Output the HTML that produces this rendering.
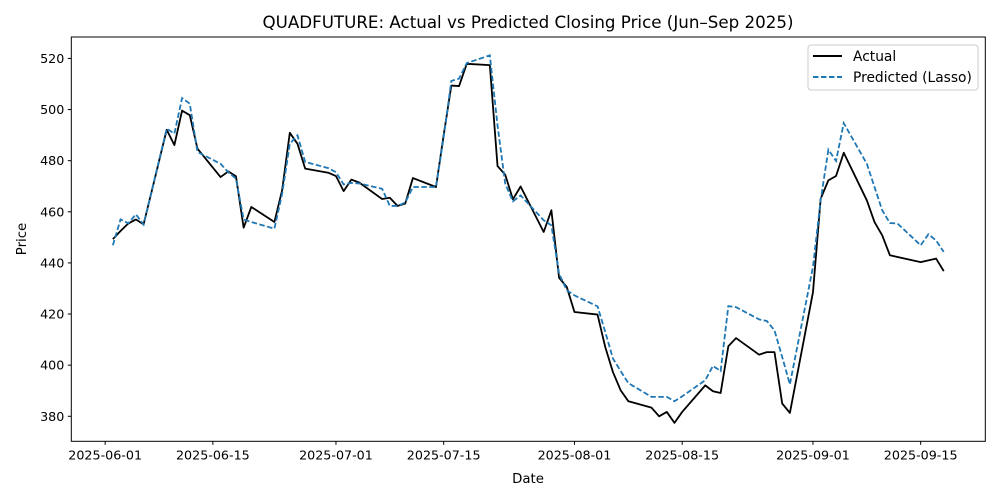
<!DOCTYPE html>
<html><head><meta charset="utf-8"><style>
html,body{margin:0;padding:0;background:#fff;}
svg{display:block;font-family:"DejaVu Sans","Liberation Sans",sans-serif;}
</style></head><body>
<svg id="chart" width="1000" height="500" viewBox="0 0 1000 500">
<rect width="1000" height="500" fill="#fff"/>
<text x="528" y="28" text-anchor="middle" font-size="16.7" fill="#000">QUADFUTURE: Actual vs Predicted Closing Price (Jun–Sep 2025)</text>
<g id="plot"></g>
<rect x="71.3" y="37" width="914" height="404.3" fill="none" stroke="#000" stroke-width="1"/>
<text x="528" y="483" text-anchor="middle" font-size="13.3">Date</text>
<text transform="translate(26,239) rotate(-90)" text-anchor="middle" font-size="13.3">Price</text>
<g>
<rect x="808" y="45" width="170" height="45" rx="3" fill="#fff" stroke="#ccc" stroke-width="1"/>
<line x1="813" y1="56" x2="842" y2="56" stroke="#000" stroke-width="2"/>
<text x="853" y="61" font-size="13.8">Actual</text>
<line x1="813" y1="77" x2="842" y2="77" stroke="#1f77b4" stroke-width="2" stroke-dasharray="5.5,2.5"/>
<text x="853" y="82" font-size="13.8">Predicted (Lasso)</text>
</g>
</svg>
<script>
const dates = ["2025-06-02","2025-06-03","2025-06-04","2025-06-05","2025-06-06","2025-06-09","2025-06-10","2025-06-11","2025-06-12","2025-06-13","2025-06-16","2025-06-17","2025-06-18","2025-06-19","2025-06-20","2025-06-23","2025-06-24","2025-06-25","2025-06-26","2025-06-27","2025-06-30","2025-07-01","2025-07-02","2025-07-03","2025-07-04","2025-07-07","2025-07-08","2025-07-09","2025-07-10","2025-07-11","2025-07-14","2025-07-15","2025-07-16","2025-07-17","2025-07-18","2025-07-21","2025-07-22","2025-07-23","2025-07-24","2025-07-25","2025-07-28","2025-07-29","2025-07-30","2025-07-31","2025-08-01","2025-08-04","2025-08-05","2025-08-06","2025-08-07","2025-08-08","2025-08-11","2025-08-12","2025-08-13","2025-08-14","2025-08-15","2025-08-18","2025-08-19","2025-08-20","2025-08-21","2025-08-22","2025-08-25","2025-08-26","2025-08-27","2025-08-28","2025-08-29","2025-09-01","2025-09-02","2025-09-03","2025-09-04","2025-09-05","2025-09-08","2025-09-09","2025-09-10","2025-09-11","2025-09-12","2025-09-15","2025-09-16","2025-09-17","2025-09-18"];
const actual = [449.3,452.5,455.4,457.0,455.1,492.1,486.1,499.6,497.8,484.7,473.6,475.8,473.9,453.8,461.9,456.0,468.4,490.9,486.6,476.9,475.3,474.0,468.1,472.6,471.5,465.0,465.5,462.3,463.2,473.2,469.7,490.0,509.4,509.2,517.9,517.4,477.9,474.5,464.9,469.9,452.1,460.6,434.2,430.6,420.8,419.8,407.1,397.3,390.2,385.9,383.4,380.0,381.7,377.4,381.7,392.1,389.8,389.1,407.4,410.6,404.1,405.1,405.1,385.0,381.3,428.5,465.1,472.3,474.0,483.1,464.5,456.0,450.8,443.0,442.3,440.3,441.0,441.7,436.8];
const predicted = [446.9,457.0,455.5,459.0,455.0,492.5,490.6,504.5,502.3,483.4,478.8,475.5,473.0,457.0,456.0,453.4,467.0,486.6,489.9,479.5,477.1,475.5,470.7,471.3,471.1,469.0,462.3,462.3,463.6,469.7,469.7,489.2,511.2,512.1,518.2,521.2,493.8,471.0,464.1,466.4,456.7,454.7,435.8,429.3,427.3,423.0,413.0,402.6,397.7,393.0,387.6,387.6,387.6,385.9,387.8,394.1,399.7,397.7,423.1,422.7,417.9,417.3,413.6,403.2,392.5,438.4,464.5,484.3,479.9,494.7,478.8,469.7,460.6,455.6,455.4,446.9,451.2,448.8,444.3];
const yTicks = [380,400,420,440,460,480,500,520];
const xTicks = ["2025-06-01","2025-06-15","2025-07-01","2025-07-15","2025-08-01","2025-08-15","2025-09-01","2025-09-15"];

const NS = "http://www.w3.org/2000/svg";
const plot = document.getElementById('plot');
const PL = 71.3, PR = 985.3, PT = 37, PB = 441.3;
const t0 = Date.UTC(2025,5,1);
function dayOf(s){const p=s.split('-');return (Date.UTC(+p[0],+p[1]-1,+p[2])-t0)/86400000;}
const dmin = dayOf(dates[0]), dmax = dayOf(dates[dates.length-1]);
const dpad = (dmax-dmin)*0.05;
function xScale(s){return PL + (dayOf(s)-(dmin-dpad))/((dmax+dpad)-(dmin-dpad))*(PR-PL);}
const allV = actual.concat(predicted);
const vmin = Math.min(...allV), vmax = Math.max(...allV), vpad=(vmax-vmin)*0.05;
function yScale(v){return PB - (v-(vmin-vpad))/((vmax+vpad)-(vmin-vpad))*(PB-PT);}

yTicks.forEach(v=>{
  const y = yScale(v);
  const l = document.createElementNS(NS,'line');
  l.setAttribute('x1',PL-3.5);l.setAttribute('x2',PL);l.setAttribute('y1',y);l.setAttribute('y2',y);
  l.setAttribute('stroke','#000');
  
  
  plot.appendChild(l);
  const t = document.createElementNS(NS,'text');
  t.setAttribute('x',PL-7);t.setAttribute('y',y+4.5);t.setAttribute('text-anchor','end');t.setAttribute('font-size','12.7');
  t.textContent = v;
  
  
  plot.appendChild(t);
});
xTicks.forEach(d=>{
  const x = xScale(d);
  const l = document.createElementNS(NS,'line');
  l.setAttribute('x1',x);l.setAttribute('x2',x);l.setAttribute('y1',PB);l.setAttribute('y2',PB+3.5);
  l.setAttribute('stroke','#000');
  
  
  plot.appendChild(l);
  const t = document.createElementNS(NS,'text');
  t.setAttribute('x',x);t.setAttribute('y',PB+18);t.setAttribute('text-anchor','middle');t.setAttribute('font-size','12.7');
  t.textContent = d;
  
  
  plot.appendChild(t);
});
function pathFor(vals){return vals.map((v,i)=>(i?'L':'M')+xScale(dates[i]).toFixed(2)+','+yScale(v).toFixed(2)).join(' ');}
const pa = document.createElementNS(NS,'path');
pa.setAttribute('d',pathFor(actual));pa.setAttribute('fill','none');pa.setAttribute('stroke','#000');pa.setAttribute('stroke-width','1.8');pa.setAttribute('stroke-linejoin','round');


plot.appendChild(pa);
const pp = document.createElementNS(NS,'path');
pp.setAttribute('d',pathFor(predicted));pp.setAttribute('fill','none');pp.setAttribute('stroke','#1f77b4');pp.setAttribute('stroke-width','1.8');pp.setAttribute('stroke-dasharray','5.5,2.5');


plot.appendChild(pp);
</script>
</body></html>
